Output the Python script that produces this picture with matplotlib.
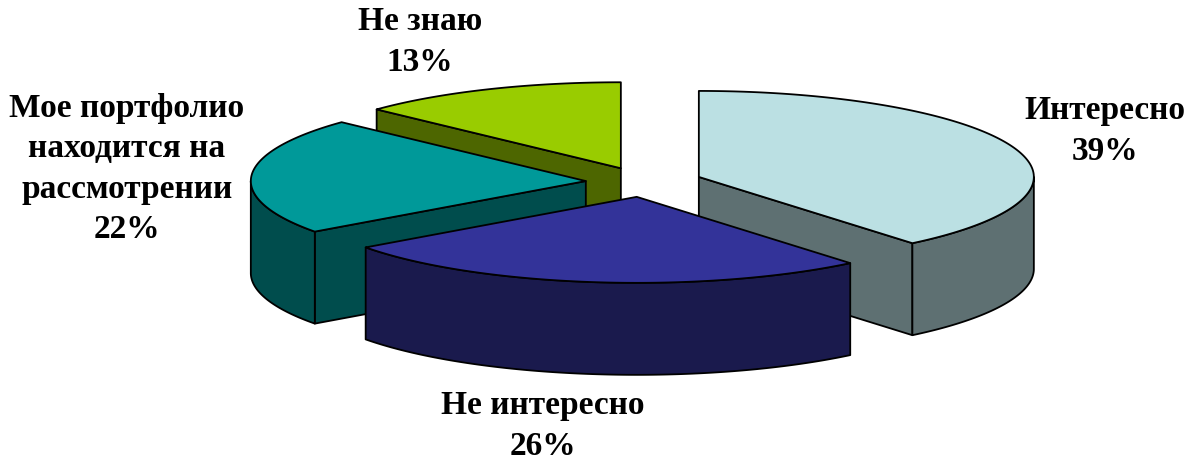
import numpy as np
import matplotlib
matplotlib.use("Agg")
import matplotlib.pyplot as plt
from matplotlib.patches import Polygon

# ---- data ----
labels = ["Интересно", "Не интересно", "Мое портфолио\nнаходится на\nрассмотрении", "Не знаю"]
values = [39, 26, 22, 13]
top_colors = ["#BBE0E3", "#333399", "#009999", "#99CC00"]
side_colors = ["#5E7072", "#1A1A4D", "#004D4D", "#4D6600"]
label_pos = [(1105, 131), (543, 426), (127, 169), (420, 42)]

# ---- geometry (pixel space) ----
W, H = 1202, 463
cx, cy = 644, 182
rx, ry = 335, 86
depth = 92
explode = 0.174

fig = plt.figure(figsize=(W / 100, H / 100), dpi=100)
ax = fig.add_axes([0, 0, 1, 1])
ax.set_xlim(0, W)
ax.set_ylim(H, 0)
ax.axis("off")


def rim(a, ox, oy, dz=0.0):
    r = np.radians(a)
    return ox + cx + rx * np.sin(r), oy + cy - ry * np.cos(r) + dz


total = float(sum(values))
starts = np.concatenate([[0], np.cumsum(values)[:-1]]) / total * 360
ends = np.cumsum(values) / total * 360
mids = (starts + ends) / 2

order = np.argsort(-np.cos(np.radians(mids)))  # back to front
lw = 1.3
for i in order:
    a1, a2, m = starts[i], ends[i], mids[i]
    ox = explode * rx * np.sin(np.radians(m))
    oy = -explode * ry * np.cos(np.radians(m))
    c = (cx + ox, cy + oy)
    # cut faces
    faces = []
    if np.cos(np.radians(a1 - 90)) < -1e-6:
        faces.append(a1)
    if np.cos(np.radians(a2 + 90)) < -1e-6:
        faces.append(a2)
    for a in faces:
        p = rim(a, ox, oy)
        poly = [c, p, (p[0], p[1] + depth), (c[0], c[1] + depth)]
        ax.add_patch(Polygon(poly, closed=True, facecolor=side_colors[i],
                             edgecolor="black", lw=lw, joinstyle="round"))
    # outer side
    b1, b2 = max(a1, 90), min(a2, 270)
    if b2 > b1:
        aa = np.linspace(b1, b2, 200)
        xs, ys = rim(aa, ox, oy)
        pts = list(zip(xs, ys)) + list(zip(xs[::-1], ys[::-1] + depth))
        ax.add_patch(Polygon(pts, closed=True, facecolor=side_colors[i],
                             edgecolor="black", lw=lw, joinstyle="round"))
    # top face
    aa = np.linspace(a1, a2, 300)
    xs, ys = rim(aa, ox, oy)
    pts = [c] + list(zip(xs, ys))
    ax.add_patch(Polygon(pts, closed=True, facecolor=top_colors[i],
                         edgecolor="black", lw=lw, joinstyle="round"))

for i in range(len(values)):
    x, y = label_pos[i]
    ax.text(x, y, f"{labels[i]}\n{values[i]}%", ha="center", va="center",
            fontsize=24, fontweight="bold", family="Liberation Serif",
            linespacing=1.4, color="black")

fig.savefig("out.png", dpi=100)
